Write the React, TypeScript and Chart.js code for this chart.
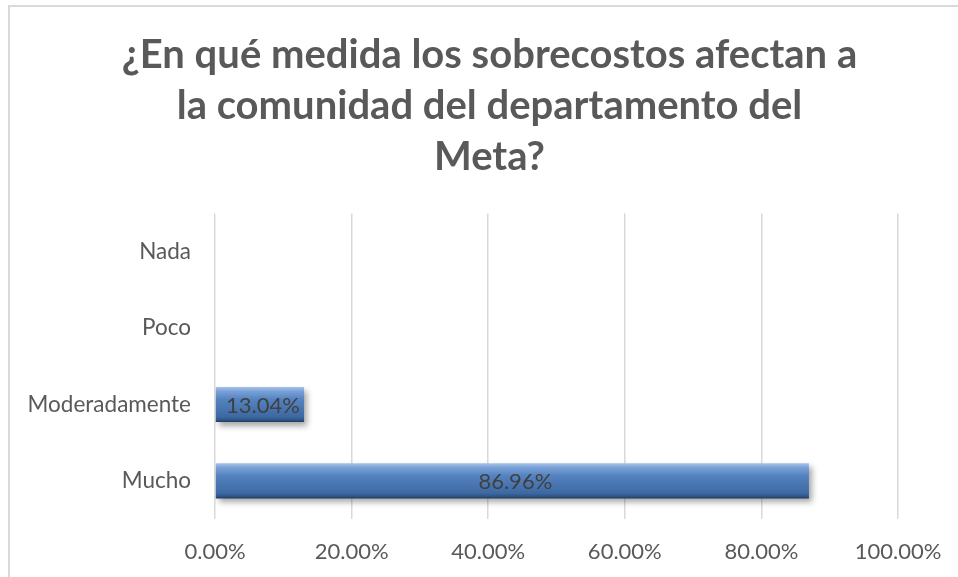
import React, { useEffect, useRef } from "react";
import { Chart, registerables } from "chart.js";

Chart.register(...registerables);

const categories = ["Nada", "Poco", "Moderadamente", "Mucho"];
const values = [0, 0, 13.04, 86.96];
const xTicks = [0, 20, 40, 60, 80, 100];
const titleLines = [
  "¿En qué medida los sobrecostos afectan a",
  "la comunidad del departamento del",
  "Meta?",
];

const FONT = "Lato, 'Open Sans', sans-serif";
const TEXT = "#595959";

const titleShift = {
  id: "titleShift",
  afterLayout(chart: any) {
    const t = chart.titleBlock;
    if (t) {
      t.left = 0;
      t.right = 979;
      t.width = 979;
    }
  },
};

const shadowPlugin = {
  id: "barShadow",
  beforeDatasetsDraw(chart: any) {
    const ctx = chart.ctx;
    ctx.save();
    ctx.shadowColor = "rgba(0,0,0,0.35)";
    ctx.shadowBlur = 6;
    ctx.shadowOffsetX = 3;
    ctx.shadowOffsetY = 4;
  },
  afterDatasetsDraw(chart: any) {
    chart.ctx.restore();
  },
};

const labelPlugin = {
  id: "barLabels",
  afterDraw(chart: any) {
    const ctx = chart.ctx;
    const meta = chart.getDatasetMeta(0);
    ctx.save();
    ctx.font = `22px ${FONT}`;
    ctx.fillStyle = "#404040";
    ctx.textAlign = "center";
    ctx.textBaseline = "middle";
    meta.data.forEach((el: any, i: number) => {
      const v = values[i];
      if (!v) return;
      const cx = (el.x + el.base) / 2 + 3;
      ctx.fillText(v.toFixed(2) + "%", cx, el.y + 1);
    });
    ctx.restore();
  },
};

export default function App() {
  const ref = useRef<HTMLCanvasElement>(null);
  useEffect(() => {
    if (!ref.current) return;
    const chart = new Chart(ref.current, {
      type: "bar",
      data: {
        labels: categories,
        datasets: [
          {
            data: values,
            barPercentage: 0.46,
            categoryPercentage: 1,
            borderWidth: 0,
            backgroundColor: (c: any) => {
              const ch = c.chart;
              const ys = ch.scales && ch.scales.y;
              if (!ys) return "#4f81bd";
              const y = ys.getPixelForValue(c.dataIndex);
              const band = Math.abs(ys.getPixelForValue(1) - ys.getPixelForValue(0));
              if (!Number.isFinite(y) || !Number.isFinite(band) || band <= 0) return "#4f81bd";
              const h = (band * 0.46) / 2;
              const g = ch.ctx.createLinearGradient(0, y - h, 0, y + h);
              g.addColorStop(0, "#a7c4ea");
              g.addColorStop(0.12, "#7aa2d8");
              g.addColorStop(0.35, "#5583bf");
              g.addColorStop(0.85, "#3d69a3");
              g.addColorStop(0.94, "#2f5487");
              g.addColorStop(1, "#1f3a60");
              return g;
            },
          },
        ],
      },
      options: {
        indexAxis: "y",
        animation: false,
        responsive: false,
        devicePixelRatio: 1,
        layout: { padding: { top: 29, bottom: 0, left: 0, right: 60 } },
        plugins: {
          legend: { display: false },
          tooltip: { enabled: false },
          title: {
            display: true,
            text: titleLines,
            color: TEXT,
            font: { family: FONT, size: 40, weight: "bold", lineHeight: 1.28 },
            padding: { top: 0, bottom: 31 },
          },
        },
        scales: {
          x: {
            min: 0,
            max: 100,
            afterBuildTicks: (s: any) => {
              s.ticks = xTicks.map((v) => ({ value: v }));
            },
            afterFit: (s: any) => {
              s.height = 58;
            },
            ticks: {
              color: TEXT,
              font: { family: FONT, size: 22, lineHeight: 1.5 },
              padding: 16,
              maxRotation: 0,
              callback: (v: any) => Number(v).toFixed(2) + "%",
            },
            grid: { color: "#d9d9d9", lineWidth: 1.5, drawTicks: false },
            border: { display: false },
          },
          y: {
            afterFit: (s: any) => {
              s.width = 215;
            },
            ticks: {
              color: TEXT,
              font: { family: FONT, size: 22.5 },
              padding: 24,
            },
            grid: { display: false, drawTicks: false },
            border: { display: false },
          },
        },
      },
      plugins: [titleShift, shadowPlugin, labelPlugin],
    } as any);
    chart.update();
    return () => chart.destroy();
  }, []);
  return (
    <div style={{ position: "fixed", left: 0, top: 0, width: 958, height: 577, background: "#fff", overflow: "hidden" }}>
      <div
        style={{
          position: "absolute",
          left: 8,
          top: 5,
          width: 1000,
          height: 640,
          borderLeft: "2px solid #d9d9d9",
          borderTop: "2px solid #d9d9d9",
          boxSizing: "border-box",
        }}
      />
      <canvas
        ref={ref}
        width={958}
        height={577}
        style={{ position: "absolute", left: 0, top: 0, width: 958, height: 577 }}
      />
    </div>
  );
}
